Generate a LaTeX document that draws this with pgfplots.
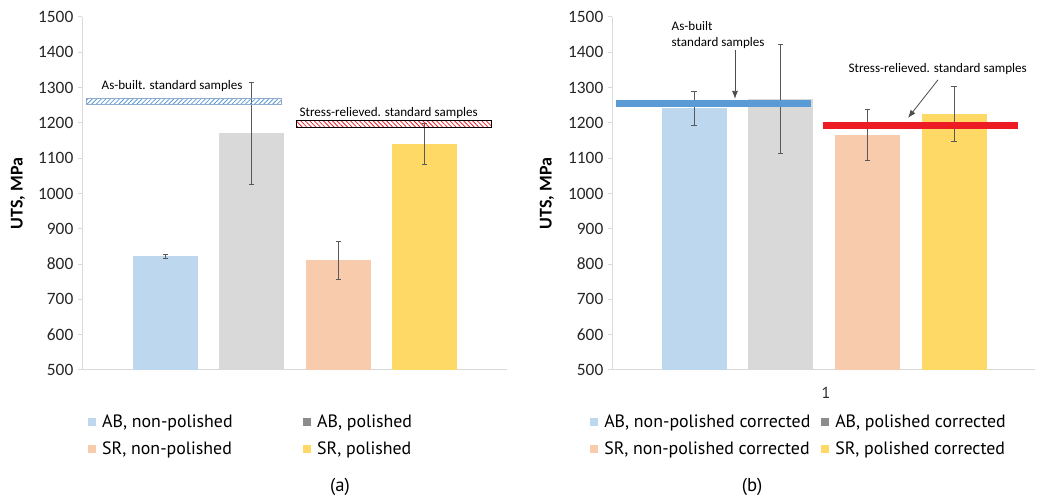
\documentclass[border=0pt]{standalone}
\usepackage{pgfplots}
\pgfplotsset{compat=1.18}
\usepackage{fontspec}
\setmainfont{Carlito}
\newfontfamily\ptsans{PT Sans}
\usetikzlibrary{patterns.meta,arrows.meta}

\definecolor{barblue}{HTML}{BDD7EE}
\definecolor{bargray}{HTML}{D9D9D9}
\definecolor{barorange}{HTML}{F8CBAD}
\definecolor{baryellow}{HTML}{FFD966}
\definecolor{leggray}{HTML}{8C8C8C}
\definecolor{lineblue}{HTML}{5B9BD5}
\definecolor{linered}{HTML}{ED1C24}
\definecolor{axisgray}{HTML}{D9D9D9}
\definecolor{errgray}{HTML}{595959}
\definecolor{boxblue}{HTML}{8FAACC}

% 1 px of the reference = 0.75pt
\newcommand\annfont{\fontsize{9.8}{11}\selectfont}
\pgfplotsset{
  utsaxis/.style={
    scale only axis,
    height=264.75pt,
    ymin=500, ymax=1500, ytick distance=100,
    axis x line*=bottom, axis y line*=left,
    axis line style={-, draw=axisgray, line width=0.75pt},
    ytick style={draw=axisgray, line width=0.75pt},
    xtick style={draw=none},
    tick align=outside, major tick length=3pt,
    /pgf/number format/assume math mode=true,
    /pgf/number format/1000 sep={},
    yticklabel style={font=\fontsize{13}{15}\selectfont, text=black!85},
    ylabel={\bfseries UTS, MPa},
    ylabel style={font=\fontsize{13.5}{16}\selectfont, anchor=center},
    legend columns=2,
    legend cell align=left,
    legend style={draw=none, fill=none, inner sep=0pt, anchor=north west,
      font=\ptsans\fontsize{13.4}{15}\selectfont,
      row sep=9pt,
      nodes={inner sep=0pt},
      /tikz/every odd column/.append style={column sep=4.5pt}},
  },
  mybar/.style={
    ybar, bar shift=0pt, bar width=65, draw=none, fill=#1,
    error bars/y dir=both, error bars/y explicit,
    error bars/error bar style={draw=errgray, line width=0.7pt},
    error bars/error mark options={draw=errgray, line width=0.7pt, mark size=2pt, rotate=90}},
  sq/.style={legend image code/.code={\fill[#1] (0pt,-3pt) rectangle (6pt,3pt);}},
}

\begin{document}
\begin{tikzpicture}
\useasboundingbox (0,0) rectangle (781.5pt,374.25pt);

% (a)
\begin{axis}[utsaxis,
  at={(61.5pt,96.75pt)}, anchor=south west,
  width=318.75pt,
  xmin=0, xmax=425, xtick=\empty,
  ylabel style={at={(axis description cs:-0.1506,0.5)}},
  legend style={at={(axis description cs:0.014,-0.127)}},
]
\addplot[mybar=barblue, sq=barblue] coordinates {(83.5,822) +- (0,6)};
\addlegendentry{\makebox[150.75pt][l]{AB, non-polished}}
\addplot[mybar=bargray, sq=leggray] coordinates {(169.5,1170) +- (0,145)};
\addlegendentry{AB, polished}
\addplot[mybar=barorange, sq=barorange] coordinates {(256.5,811) +- (0,54)};
\addlegendentry{\makebox[150.75pt][l]{SR, non-polished}}
\addplot[mybar=baryellow, sq=baryellow] coordinates {(342.5,1140) +- (0,58)};
\addlegendentry{SR, polished}

\addplot[sharp plot, no marks, forget plot, draw=boxblue, line width=0.75pt,
  pattern={Lines[angle=45,distance=2.4pt,line width=0.6pt]}, pattern color=lineblue]
  coordinates {(4,1252) (199,1252) (199,1270) (4,1270)} -- cycle;
\addplot[sharp plot, no marks, forget plot, draw=black, line width=0.75pt,
  pattern={Lines[angle=-45,distance=2.4pt,line width=0.6pt]}, pattern color=linered]
  coordinates {(214,1188) (409,1188) (409,1207) (214,1207)} -- cycle;
\node[anchor=base west, font=\annfont] at (axis cs:15,1295) {As-built. standard samples};
\node[anchor=base west, font=\annfont] at (axis cs:213,1218) {Stress-relieved. standard samples};
\end{axis}

% (b)
\begin{axis}[utsaxis,
  at={(459pt,96.75pt)}, anchor=south west,
  width=317.25pt,
  xmin=0, xmax=423, xtick={214}, xticklabels={1},
  xticklabel style={font=\ptsans\fontsize{12}{14}\selectfont, text=black!85, yshift=-6pt},
  ylabel style={at={(axis description cs:-0.1537,0.5)}},
  legend style={at={(axis description cs:-0.052,-0.127)}},
]
\addplot[mybar=barblue, sq=barblue] coordinates {(82,1242) +- (0,48)};
\addlegendentry{\makebox[162.75pt][l]{AB, non-polished corrected}}
\addplot[mybar=bargray, sq=leggray] coordinates {(168.5,1268) +- (0,155)};
\addlegendentry{AB, polished corrected}
\addplot[mybar=barorange, sq=barorange] coordinates {(255.5,1166) +- (0,73)};
\addlegendentry{\makebox[162.75pt][l]{SR, non-polished corrected}}
\addplot[mybar=baryellow, sq=baryellow] coordinates {(342,1224) +- (0,78)};
\addlegendentry{SR, polished corrected}

\addplot[sharp plot, no marks, forget plot, draw=lineblue, line width=5.25pt]
  coordinates {(4,1254) (199,1254)};
\addplot[sharp plot, no marks, forget plot, draw=linered, line width=5.25pt]
  coordinates {(211,1194) (406,1194)};
\node[anchor=base west, font=\annfont] at (axis cs:55,1463) {As-built};
\node[anchor=base west, font=\annfont] at (axis cs:55,1416) {standard samples};
\node[anchor=base west, font=\annfont] at (axis cs:232,1342) {Stress-relieved. standard samples};
\draw[-{Latex[length=6pt,width=4.5pt]}, black!70, line width=0.6pt] (axis cs:123,1406) -- (axis cs:123,1268);
\draw[-{Latex[length=6pt,width=4.5pt]}, black!70, line width=0.6pt] (axis cs:326,1322) -- (axis cs:296,1214);
\end{axis}

\node[font=\ptsans\fontsize{14}{16}\selectfont] at (255pt,9pt) {(a)};
\node[font=\ptsans\fontsize{14}{16}\selectfont] at (564pt,9pt) {(b)};
\end{tikzpicture}
\end{document}
